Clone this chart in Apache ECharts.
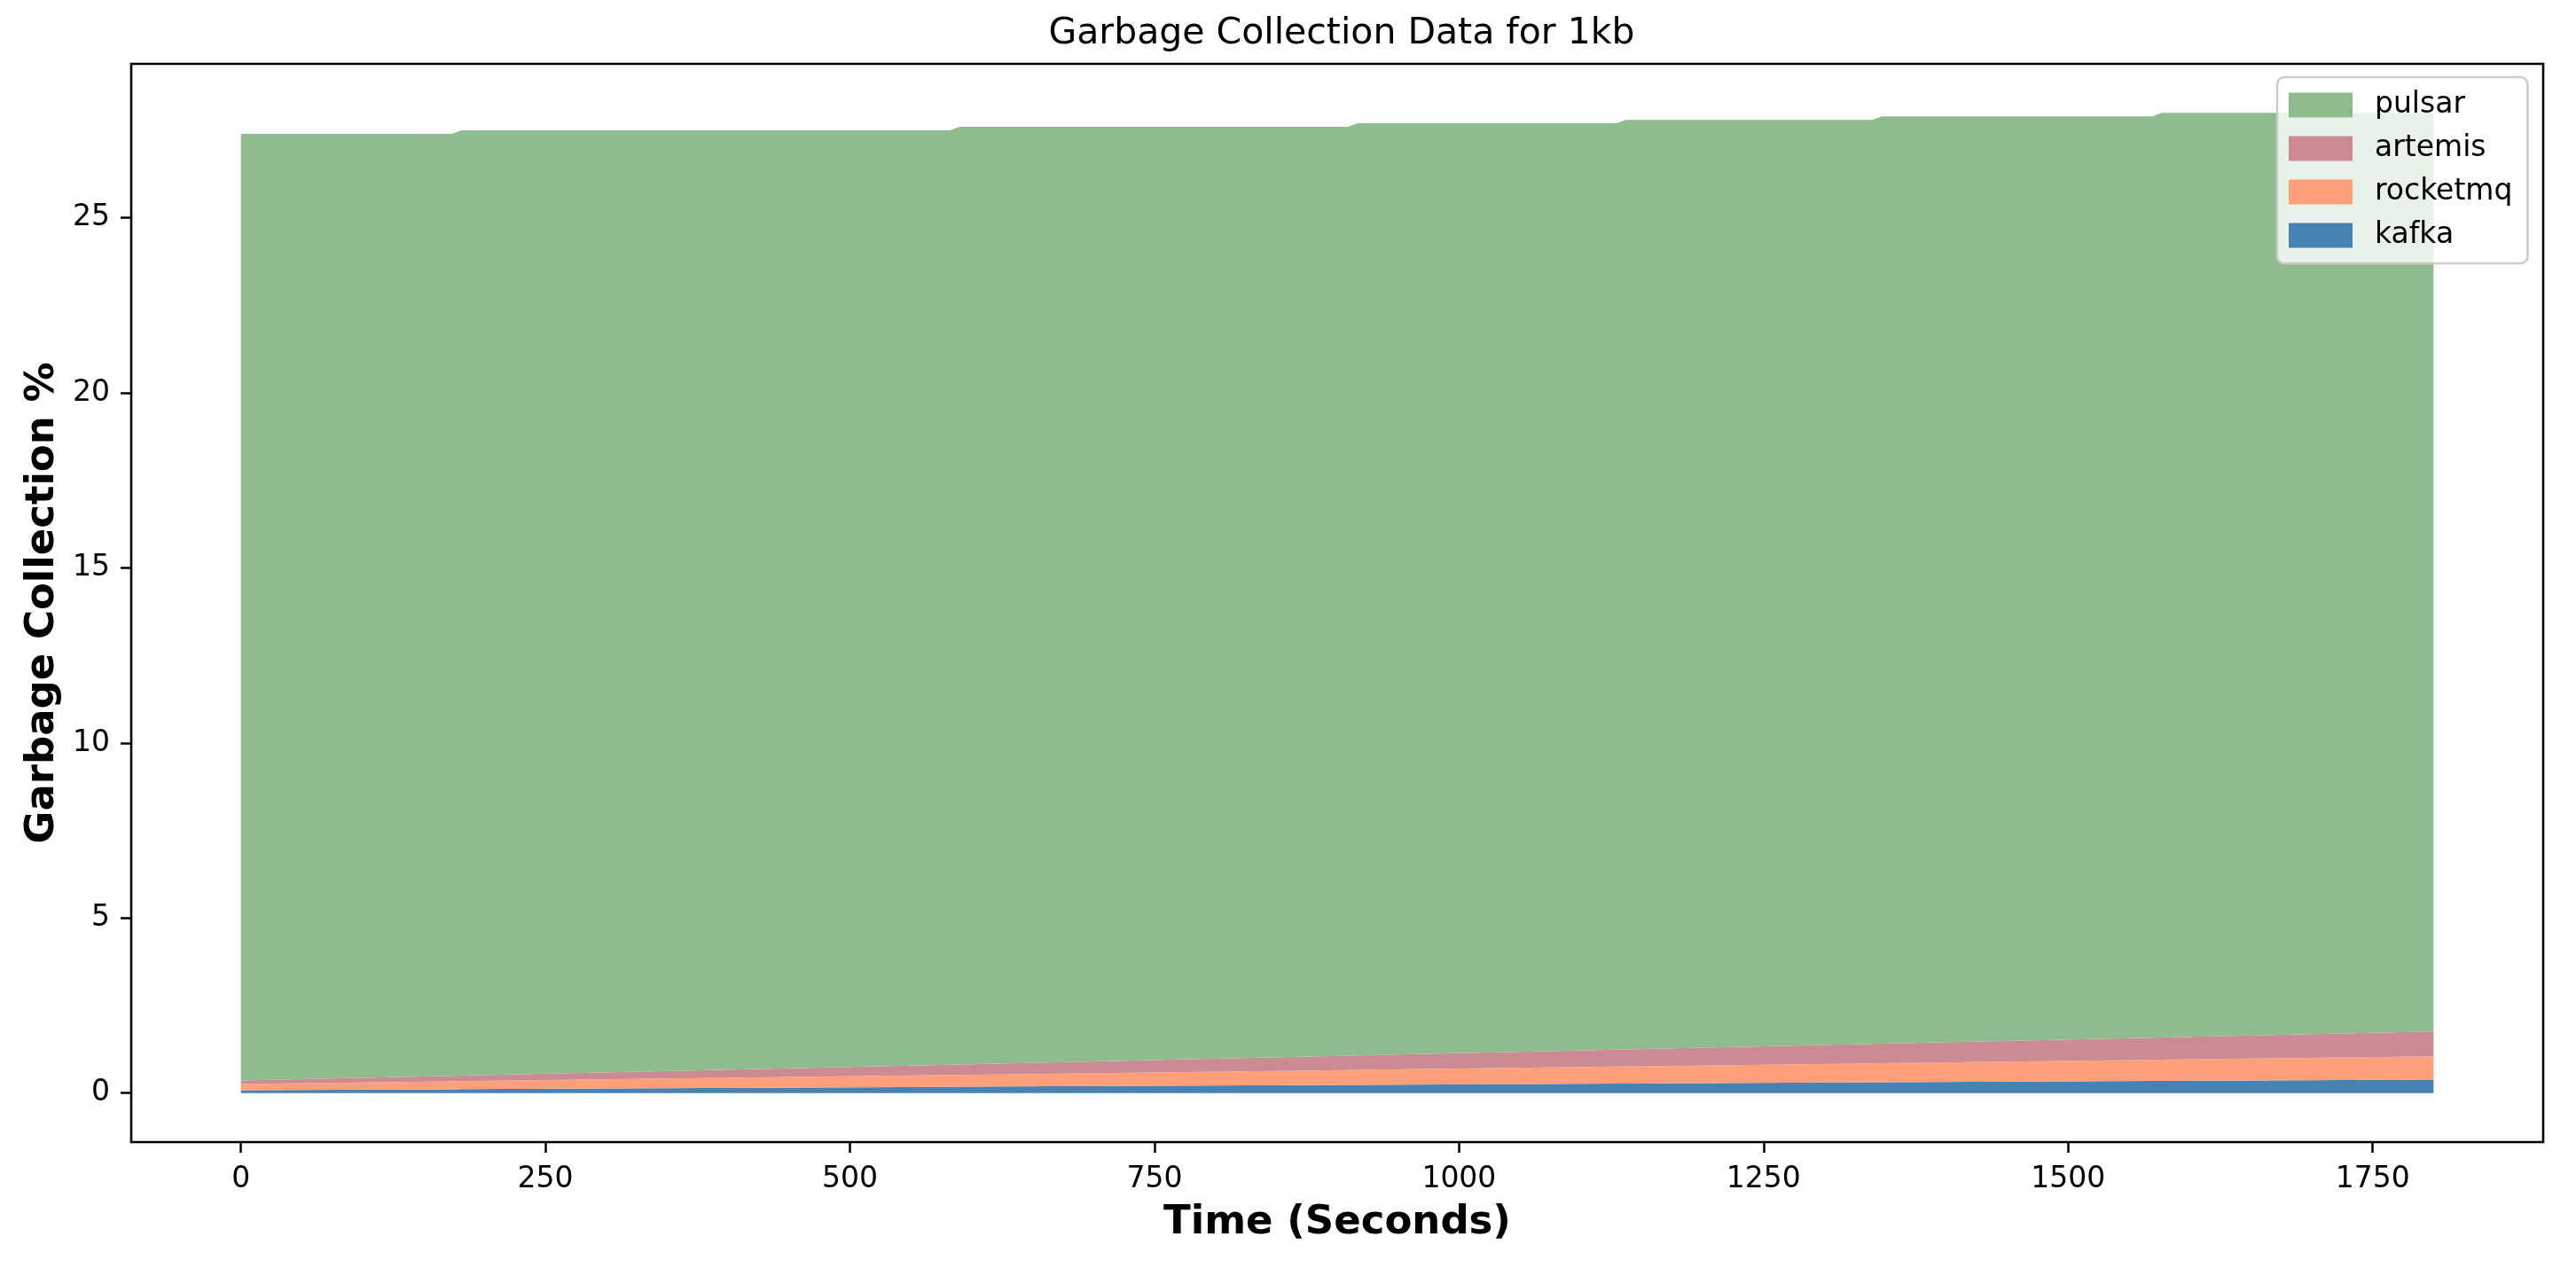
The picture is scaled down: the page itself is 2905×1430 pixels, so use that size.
<!DOCTYPE html>
<html>
<head>
<meta charset="utf-8">
<title>Garbage Collection Data for 1kb</title>
<script src="https://cdn.jsdelivr.net/npm/echarts@6/dist/echarts.min.js"></script>
<style>
  html, body { margin: 0; padding: 0; background: #fff; }
  #gc-box { width: 2905px; height: 1430px; }
</style>
</head>
<body>
<div id="gc-box"></div>
<script>
// time samples (s), taken at the ends of each small jump of the total
var times    = [0, 173, 181, 582, 590, 909, 917, 1129, 1137, 1339, 1347, 1569, 1577, 1800];
var kafka    = [0.080, 0.109, 0.111, 0.179, 0.180, 0.235, 0.236, 0.272, 0.273, 0.308, 0.309, 0.347, 0.348, 0.386];
var rocketmq = [0.180, 0.227, 0.229, 0.337, 0.339, 0.425, 0.428, 0.485, 0.487, 0.542, 0.544, 0.604, 0.606, 0.666];
var artemis  = [0.100, 0.159, 0.161, 0.297, 0.300, 0.408, 0.411, 0.483, 0.485, 0.554, 0.557, 0.632, 0.635, 0.710];
var pulsar   = [27.040, 26.905, 26.999, 26.687, 26.781, 26.532, 26.625, 26.460, 26.555, 26.396, 26.490, 26.317, 26.411, 26.238];

var xTicks = [0, 250, 500, 750, 1000, 1250, 1500, 1750];
var yTicks = [0, 5, 10, 15, 20, 25];

var seriesNames  = ['kafka', 'rocketmq', 'artemis', 'pulsar'];
var seriesValues = [kafka, rocketmq, artemis, pulsar];
var seriesColors = ['#4682b4', '#ffa07a', '#cc8a93', '#8fbc8f'];

var FONT = 'DejaVu Sans';

// value first so the stack is done on it, time second (mapped to x by encode)
function pairs(vals) {
    var out = [];
    for (var i = 0; i < times.length; i++) out.push([vals[i], times[i]]);
    return out;
}

var series = seriesNames.map(function (name, i) {
    return {
        name: name,
        type: 'line',
        stack: 'total',
        data: pairs(seriesValues[i]),
        encode: { x: 1, y: 0 },
        color: seriesColors[i],
        showSymbol: false,
        symbol: 'none',
        lineStyle: { width: 0 },
        areaStyle: { color: seriesColors[i], opacity: 1 },
        emphasis: { disabled: true },
        animation: false
    };
});

var chart = echarts.init(document.getElementById('gc-box'), null, { renderer: 'canvas' });
chart.setOption({
    backgroundColor: '#ffffff',
    animation: false,
    title: {
        text: 'Garbage Collection Data for 1kb',
        left: 1508,
        top: 13,
        textAlign: 'center',
        textStyle: { fontFamily: FONT, fontSize: 41, fontWeight: 'normal', color: '#000' }
    },
    legend: {
        data: ['pulsar', 'artemis', 'rocketmq', 'kafka'],
        orient: 'vertical',
        left: 2568,
        top: 87,
        z: 10,
        icon: 'rect',
        itemWidth: 72,
        itemHeight: 28,
        itemGap: 16,
        padding: [15, 17, 15, 13],
        backgroundColor: 'rgba(255,255,255,0.8)',
        borderColor: '#cccccc',
        borderWidth: 2.5,
        borderRadius: 8,
        selectedMode: false,
        textStyle: { fontFamily: FONT, fontSize: 33, color: '#000', padding: [0, 0, 0, 20] }
    },
    grid: {
        left: 148, right: 37, top: 72, bottom: 142,
        show: true, borderColor: '#000', borderWidth: 2.6,
        backgroundColor: 'transparent',
        containLabel: false
    },
    xAxis: {
        type: 'value',
        min: -90,
        max: 1890,
        name: 'Time (Seconds)',
        nameLocation: 'middle',
        nameGap: 69,
        nameTextStyle: { fontFamily: FONT, fontSize: 45, fontWeight: 'bold', color: '#000' },
        axisLine: { show: false, onZero: false },
        splitLine: { show: false },
        axisTick: { show: true, customValues: xTicks, length: 12, lineStyle: { color: '#000', width: 2.5 } },
        axisLabel: {
            customValues: xTicks, margin: 26, fontFamily: FONT, fontSize: 33, color: '#000',
            formatter: function (v) { return String(v); }
        }
    },
    yAxis: {
        type: 'value',
        min: -1.4,
        max: 29.4,
        name: 'Garbage Collection %',
        nameLocation: 'middle',
        nameRotate: 90,
        nameGap: 77,
        nameTextStyle: { fontFamily: FONT, fontSize: 45, fontWeight: 'bold', color: '#000' },
        axisLine: { show: false, onZero: false },
        splitLine: { show: false },
        axisTick: { show: true, customValues: yTicks, length: 12, lineStyle: { color: '#000', width: 2.5 } },
        axisLabel: {
            customValues: yTicks, margin: 24, fontFamily: FONT, fontSize: 33, color: '#000',
            formatter: function (v) { return String(v); }
        }
    },
    series: series
});
</script>
</body>
</html>
